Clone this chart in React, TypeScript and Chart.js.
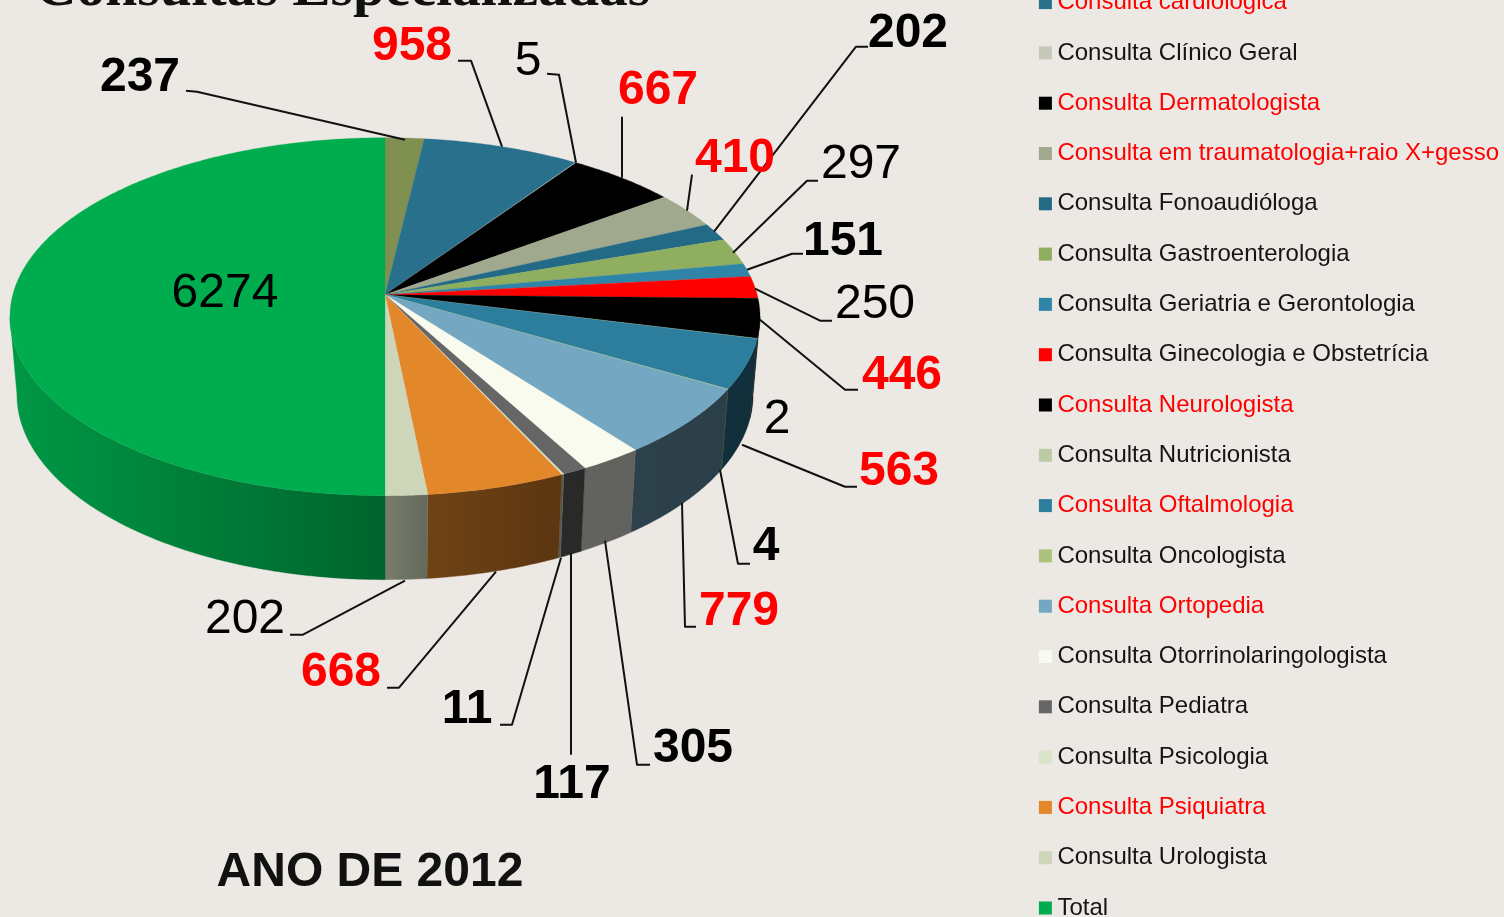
import React, { useEffect, useRef } from "react";
import { Chart, registerables } from "chart.js";

Chart.register(...registerables);

// ---- data, clockwise from 12 o'clock ----
const categories = [
  "Consulta Cardiologia",
  "Consulta cardiológica",
  "Consulta Clínico Geral",
  "Consulta Dermatologista",
  "Consulta em traumatologia+raio X+gesso",
  "Consulta Fonoaudióloga",
  "Consulta Gastroenterologia",
  "Consulta Geriatria e Gerontologia",
  "Consulta Ginecologia e Obstetrícia",
  "Consulta Neurologista",
  "Consulta Nutricionista",
  "Consulta Oftalmologia",
  "Consulta Oncologista",
  "Consulta Ortopedia",
  "Consulta Otorrinolaringologista",
  "Consulta Pediatra",
  "Consulta Psicologia",
  "Consulta Psiquiatra",
  "Consulta Urologista",
  "Total",
];
const values = [237, 958, 5, 667, 410, 202, 297, 151, 250, 446, 2, 563, 4, 779, 305, 117, 11, 668, 202, 6274];
const sliceColors = [
  "#7F9050", "#29708D", "#C6C9BA", "#000000", "#A0A88E", "#226A85", "#90AE5F", "#2F85A7", "#FF0000", "#000000",
  "#BCCBA6", "#2C7E9C", "#A9C47A", "#74A8C2", "#FAFBEF", "#666666", "#D9E4C8", "#E3872B", "#CED6B9", "#00AD4E",
];
const legendTextColors = [
  "#FF0000", "#FF0000", "#151515", "#FF0000", "#FF0000", "#151515", "#151515", "#151515", "#151515", "#FF0000",
  "#151515", "#FF0000", "#151515", "#FF0000", "#151515", "#151515", "#151515", "#FF0000", "#151515", "#151515",
];
const valueLabelBold = [1, 1, 0, 1, 1, 1, 0, 1, 0, 1, 0, 1, 1, 1, 1, 1, 1, 1, 0, 0];
const valueLabelColors = [
  "#000000", "#FF0000", "#000000", "#FF0000", "#FF0000", "#000000", "#000000", "#000000", "#000000", "#FF0000",
  "#000000", "#FF0000", "#000000", "#FF0000", "#000000", "#000000", "#000000", "#FF0000", "#000000", "#000000",
];

// ---- label layout (page pixels): text centre, then leader polyline ----
const labelCentres = [
  [140, 76], [412, 45], [528, 60], [658, 89], [735, 157], [908, 32], [861, 163], [843, 240], [875, 303], [902, 374],
  [777, 418], [899, 470], [766, 545], [739, 610], [693, 747], [572, 783], [467, 708], [341, 671], [245, 618], [225, 292],
];
const leaders = [
  [[186, 91], [197, 92], [405, 140]],
  [[458, 61], [471, 61], [502, 147]],
  [[547, 74], [559, 75], [576, 163]],
  [[622, 117], [622, 178]],
  [[692, 175], [687, 211]],
  [[868, 47], [856, 47], [714, 232]],
  [[818, 181], [807, 181], [733, 253]],
  [[803, 254], [792, 254], [747, 270]],
  [[832, 321], [820, 321], [755, 289]],
  [[858, 390], [845, 390], [760, 320]],
  [],
  [[857, 487], [845, 487], [742, 445]],
  [[750, 564], [738, 564], [720, 470]],
  [[696, 627], [685, 627], [682, 503]],
  [[650, 765], [637, 765], [605, 541]],
  [[571, 755], [571, 553]],
  [[500, 725], [512, 725], [561, 558]],
  [[387, 688], [399, 688], [496, 572]],
  [[290, 635], [303, 635], [405, 581]],
  [],
];

const PAGE_BG = "#ECE8E4";
const CANVAS_TOP = 85.7; // canvas starts above the page: the title and first legend row are cut off
const RADIUS = 375;
const PIE_TOP = 5.7;

// perspective of the pie's top face
const PERSP = -0.1229;
const KX = 0.9925;
const KY = 0.47;

function hexRgb(hex: string) {
  const n = parseInt(hex.slice(1), 16);
  return [(n >> 16) & 255, (n >> 8) & 255, n & 255];
}

const wallShade: [number, number][] = [
  [0, 0.88],
  [0.5, 0.58],
  [0.56, 0.49],
  [0.735, 0.4],
  [1, 0.37],
];

const pie3d = {
  id: "pie3d",
  beforeDatasetDraw(chart: any) {
    const ctx: CanvasRenderingContext2D = chart.ctx;
    const arcs = chart.getDatasetMeta(0).data;
    const R = arcs[0].outerRadius;
    const cx = chart.chartArea.left + R;
    const cy = chart.chartArea.top + R + PIE_TOP;
    const top = (a: number) => {
      const s = Math.sin(a);
      const w = 1 / (1 + PERSP * s);
      return [cx + R * KX * Math.cos(a) * w, cy + R * KY * s * w];
    };
    const bottom = (a: number) => {
      const [x, y] = top(a);
      const midY = cy + (22 / 375) * R;
      return [cx + (x - cx) * (368 / 375), midY + (78 / 375) * R + (y - midY) * (185 / 179)];
    };
    const STEP = 0.01;
    const trace = (fn: (a: number) => number[], a0: number, a1: number) => {
      const n = Math.max(1, Math.ceil(Math.abs(a1 - a0) / STEP));
      for (let i = 0; i <= n; i++) {
        const [x, y] = fn(a0 + ((a1 - a0) * i) / n);
        ctx.lineTo(x, y);
      }
    };
    ctx.save();
    // side wall: only between the two points where the top face is widest
    const from = Math.asin(-PERSP);
    const to = Math.PI - from;
    const norm = (a: number) => {
      let v = a;
      while (v < -Math.PI / 2) v += Math.PI * 2;
      return v;
    };
    arcs.forEach((arc: any) => {
      const a0 = Math.max(from, norm(arc.startAngle));
      const a1 = Math.min(to, norm(arc.startAngle) + (arc.endAngle - arc.startAngle));
      if (a1 <= a0) return;
      const rgb = hexRgb(arc.options.backgroundColor);
      const g = ctx.createLinearGradient(cx - R, 0, cx + R, 0);
      wallShade.forEach(([p, f]) => {
        g.addColorStop(p, `rgb(${rgb[0] * f},${rgb[1] * f},${rgb[2] * f})`);
      });
      ctx.beginPath();
      trace(top, a0, a1);
      trace(bottom, a1, a0);
      ctx.closePath();
      ctx.fillStyle = g;
      ctx.strokeStyle = g;
      ctx.lineWidth = 0.4;
      ctx.fill();
      ctx.stroke();
    });
    // top face
    arcs.forEach((arc: any) => {
      ctx.beginPath();
      ctx.moveTo(cx, cy);
      trace(top, arc.startAngle, arc.endAngle);
      ctx.closePath();
      ctx.fillStyle = arc.options.backgroundColor;
      ctx.strokeStyle = arc.options.backgroundColor;
      ctx.lineWidth = 0.3;
      ctx.fill();
      ctx.stroke();
    });
    ctx.restore();
    return false;
  },
  afterDatasetsDraw(chart: any) {
    const ctx: CanvasRenderingContext2D = chart.ctx;
    ctx.save();
    ctx.translate(0, CANVAS_TOP);
    ctx.strokeStyle = "#111111";
    ctx.lineWidth = 2;
    ctx.lineJoin = "round";
    leaders.forEach((pts) => {
      if (!pts.length) return;
      ctx.beginPath();
      pts.forEach(([x, y], i) => (i ? ctx.lineTo(x, y) : ctx.moveTo(x, y)));
      ctx.stroke();
    });
    ctx.textAlign = "center";
    ctx.textBaseline = "middle";
    values.forEach((v, i) => {
      ctx.font = `${valueLabelBold[i] ? "bold " : ""}48px "Liberation Sans"`;
      ctx.fillStyle = valueLabelColors[i];
      ctx.fillText(String(v), labelCentres[i][0], labelCentres[i][1] + 2.5);
    });
    ctx.font = 'bold 48px "Liberation Sans"';
    ctx.fillStyle = "#111111";
    ctx.fillText("ANO DE 2012", 370, 873);
    ctx.textAlign = "left";
    ctx.textBaseline = "alphabetic";
    ctx.font = 'bold 57.5px "Liberation Serif"';
    ctx.fillStyle = "#111111";
    ctx.fillText("Consultas Especializadas", 35, 5);
    ctx.restore();
  },
};

export default function App() {
  const ref = useRef<HTMLCanvasElement>(null);
  useEffect(() => {
    const chart = new Chart(ref.current!, {
      type: "pie",
      data: {
        labels: categories,
        datasets: [{ data: values, backgroundColor: sliceColors, borderWidth: 0, radius: RADIUS }],
      },
      options: {
        animation: false,
        responsive: false,
        layout: { padding: { left: 10 } },
        plugins: {
          tooltip: { enabled: false },
          legend: {
            position: "right",
            align: "start",
            labels: {
              usePointStyle: true,
              pointStyle: "rect",
              boxWidth: 0.01,
              boxHeight: 13,
              padding: 26.3,
              font: { family: '"Liberation Sans"', size: 24 },
              generateLabels: () =>
                categories.map((c, i) => ({
                  text: c,
                  fillStyle: sliceColors[i],
                  strokeStyle: sliceColors[i],
                  lineWidth: 0,
                  fontColor: legendTextColors[i],
                  pointStyle: "rect",
                  hidden: false,
                  index: i,
                })),
            },
          },
        } as any,
      },
      plugins: [pie3d as any],
    });
    return () => chart.destroy();
  }, []);
  return (
    <div style={{ position: "fixed", inset: 0, overflow: "hidden", background: PAGE_BG }}>
      <canvas
        ref={ref}
        width={1509}
        height={1060}
        style={{ position: "absolute", left: 0, top: -CANVAS_TOP, width: 1509, height: 1060, filter: "blur(0.45px)" }}
      />
    </div>
  );
}
